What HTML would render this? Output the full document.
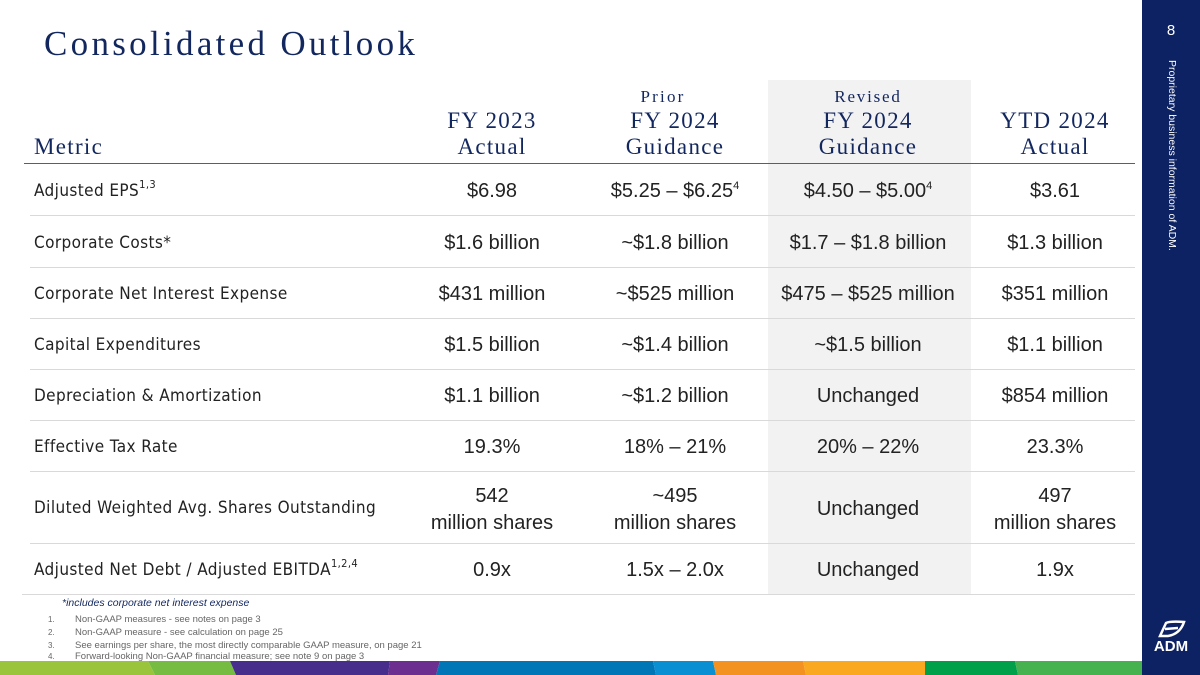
<!DOCTYPE html>
<html><head><meta charset="utf-8"><style>
body{margin:0;width:1200px;height:675px;position:relative;overflow:hidden;background:#fff;font-family:"Liberation Sans",sans-serif;}
.a{position:absolute}
.serif{font-family:"Liberation Serif",serif;color:#13275f}
.h{position:absolute;text-align:center;width:200px;font-size:23px;line-height:26px;letter-spacing:1.3px}
.lab{position:absolute;left:34px;font-size:17px;color:#222;font-family:"DejaVu Sans Condensed","Liberation Sans",sans-serif;letter-spacing:0.4px}
.v{position:absolute;width:200px;text-align:center;font-size:20px;color:#222;line-height:26px}
.rule{position:absolute;left:30px;width:1105px;height:1px;background:#d9d9d9}
sup{font-size:11px;vertical-align:8px;line-height:0}
.fn{position:absolute;left:48px;font-size:9.5px;color:#666}
.fn b{display:inline-block;width:27px;font-weight:normal;font-size:8px}
</style></head><body>
<div class="a" style="left:768px;top:80px;width:203px;height:515px;background:#f2f2f2"></div>
<div class="a serif" style="left:44px;top:24px;font-size:35px;letter-spacing:3.3px">Consolidated Outlook</div>
<div class="a" style="left:1142px;top:0;width:58px;height:675px;background:#0d2262"></div>
<div class="a" style="left:1142px;top:22px;width:58px;text-align:center;color:#fff;font-size:15px">8</div>
<div class="a" style="left:1172px;top:60px;transform-origin:0 0;transform:rotate(90deg) translateY(-6px);white-space:nowrap;color:#fff;font-size:10.5px">Proprietary business information of ADM.</div>
<div class="a" style="left:1142px;top:620px;width:58px;text-align:center;color:#fff;font-weight:bold;font-size:15px">
<svg width="30" height="18" viewBox="0 0 30 18" style="display:block;margin:0 auto 0"><path d="M4 16 L10 3 Q14 1 28 2 Q24 14 12 16 Z M9 9 L22 8" fill="none" stroke="#fff" stroke-width="2.5"/></svg>ADM</div>
<svg class="a" style="left:0;top:661px" width="1142" height="14">
<polygon points="0,0 148,0 155,14 0,14" fill="#9ac43c"/>
<polygon points="148,0 230,0 236,14 155,14" fill="#76bc43"/>
<polygon points="230,0 390,0 388,14 236,14" fill="#472d8c"/>
<polygon points="390,0 440,0 436,14 388,14" fill="#6d2f8f"/>
<polygon points="440,0 653,0 656,14 436,14" fill="#0076b6"/>
<polygon points="653,0 713,0 716,14 656,14" fill="#0a8fd3"/>
<polygon points="713,0 803,0 806,14 716,14" fill="#f39220"/>
<polygon points="803,0 925,0 925,14 806,14" fill="#f9a81f"/>
<polygon points="925,0 1015,0 1018,14 925,14" fill="#00a04b"/>
<polygon points="1015,0 1142,0 1142,14 1018,14" fill="#45b14f"/>
</svg>
<div class="h serif" style="left:34px;top:134px;width:auto;text-align:left">Metric</div>
<div class="h serif" style="left:392px;top:108px">FY 2023<br>Actual</div>
<div class="h serif" style="left:563px;top:84px;font-size:17px;letter-spacing:2.2px">Prior</div>
<div class="h serif" style="left:575px;top:108px">FY 2024<br>Guidance</div>
<div class="h serif" style="left:768px;top:84px;font-size:17px;letter-spacing:1.8px">Revised</div>
<div class="h serif" style="left:768px;top:108px">FY 2024<br>Guidance</div>
<div class="h serif" style="left:955px;top:108px">YTD 2024<br>Actual</div>
<div class="a" style="left:24px;top:163px;width:1111px;height:1px;background:#4a5f8c"></div>

<div class="lab" style="top:181px">Adjusted EPS<sup>1,3</sup></div>
<div class="v" style="left:392px;top:178px">$6.98</div>
<div class="v" style="left:575px;top:178px">$5.25 – $6.25<sup>4</sup></div>
<div class="v" style="left:768px;top:178px">$4.50 – $5.00<sup>4</sup></div>
<div class="v" style="left:955px;top:178px">$3.61</div>
<div class="rule" style="top:215px"></div>

<div class="lab" style="top:233px">Corporate Costs*</div>
<div class="v" style="left:392px;top:230px">$1.6 billion</div>
<div class="v" style="left:575px;top:230px">~$1.8 billion</div>
<div class="v" style="left:768px;top:230px">$1.7 – $1.8 billion</div>
<div class="v" style="left:955px;top:230px">$1.3 billion</div>
<div class="rule" style="top:267px"></div>

<div class="lab" style="top:284px">Corporate Net Interest Expense</div>
<div class="v" style="left:392px;top:281px">$431 million</div>
<div class="v" style="left:575px;top:281px">~$525 million</div>
<div class="v" style="left:758px;top:281px;width:220px">$475 – $525 million</div>
<div class="v" style="left:955px;top:281px">$351 million</div>
<div class="rule" style="top:318px"></div>

<div class="lab" style="top:335px">Capital Expenditures</div>
<div class="v" style="left:392px;top:332px">$1.5 billion</div>
<div class="v" style="left:575px;top:332px">~$1.4 billion</div>
<div class="v" style="left:768px;top:332px">~$1.5 billion</div>
<div class="v" style="left:955px;top:332px">$1.1 billion</div>
<div class="rule" style="top:369px"></div>

<div class="lab" style="top:386px">Depreciation &amp; Amortization</div>
<div class="v" style="left:392px;top:383px">$1.1 billion</div>
<div class="v" style="left:575px;top:383px">~$1.2 billion</div>
<div class="v" style="left:768px;top:383px">Unchanged</div>
<div class="v" style="left:955px;top:383px">$854 million</div>
<div class="rule" style="top:420px"></div>

<div class="lab" style="top:437px">Effective Tax Rate</div>
<div class="v" style="left:392px;top:434px">19.3%</div>
<div class="v" style="left:575px;top:434px">18% – 21%</div>
<div class="v" style="left:768px;top:434px">20% – 22%</div>
<div class="v" style="left:955px;top:434px">23.3%</div>
<div class="rule" style="top:471px"></div>

<div class="lab" style="top:498px">Diluted Weighted Avg. Shares Outstanding</div>
<div class="v" style="left:392px;top:483px;line-height:27px">542<br>million shares</div>
<div class="v" style="left:575px;top:483px;line-height:27px">~495<br>million shares</div>
<div class="v" style="left:768px;top:496px">Unchanged</div>
<div class="v" style="left:955px;top:483px;line-height:27px">497<br>million shares</div>
<div class="rule" style="top:543px"></div>

<div class="lab" style="top:560px">Adjusted Net Debt / Adjusted EBITDA<sup>1,2,4</sup></div>
<div class="v" style="left:392px;top:557px">0.9x</div>
<div class="v" style="left:575px;top:557px">1.5x – 2.0x</div>
<div class="v" style="left:768px;top:557px">Unchanged</div>
<div class="v" style="left:955px;top:557px">1.9x</div>
<div class="rule" style="top:594px;left:22px;width:1113px"></div>

<div class="a" style="left:62px;top:597px;font-size:10.5px;font-style:italic;color:#13275f">*includes corporate net interest expense</div>
<div class="fn" style="top:614px"><b>1.</b>Non-GAAP measures - see notes on page 3</div>
<div class="fn" style="top:627px"><b>2.</b>Non-GAAP measure - see calculation on page 25</div>
<div class="fn" style="top:640px"><b>3.</b>See earnings per share, the most directly comparable GAAP measure, on page 21</div>
<div class="fn" style="top:651px"><b>4.</b>Forward-looking Non-GAAP financial measure; see note 9 on page 3</div>
</body></html>
